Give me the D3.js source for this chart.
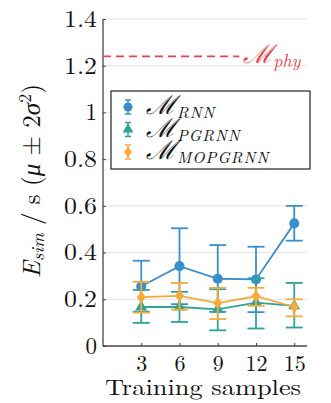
<!DOCTYPE html>
<html>
<head>
<meta charset="utf-8">
<script src="https://cdn.jsdelivr.net/npm/d3@7"></script>
<style>
  body { margin: 0; background: #fff; }
  text { font-family: "Latin Modern Roman", "Liberation Serif", serif; fill: #111; }
</style>
</head>
<body>
<div id="chart"></div>
<script>
// ---------- data ----------
const samples = [3, 6, 9, 12, 15];
const yTicks = [0, 0.2, 0.4, 0.6, 0.8, 1, 1.2, 1.4];
const phyValue = 1.24;

const rnnMean = [0.256, 0.342, 0.288, 0.285, 0.525];
const rnnLow  = [0.147, 0.179, 0.146, 0.145, 0.451];
const rnnHigh = [0.365, 0.504, 0.432, 0.425, 0.600];

const pgMean = [0.167, 0.167, 0.157, 0.186, 0.172];
const pgLow  = [0.099, 0.103, 0.067, 0.075, 0.079];
const pgHigh = [0.240, 0.232, 0.243, 0.290, 0.270];

const moMean = [0.209, 0.215, 0.184, 0.213, 0.167];
const moLow  = [0.143, 0.156, 0.115, 0.172, 0.127];
const moHigh = [0.275, 0.270, 0.249, 0.249, 0.200];

const seriesNames = ["RNN", "PGRNN", "MOPGRNN"];
const colors = ["#3a8fcb", "#2fa39a", "#f6ab3a"];
const markers = ["circle", "triangle", "diamond"];

// ---------- layout ----------
const W = 331, H = 403;
const margin = {top: 19, left: 103, right: 24, bottom: 57};
const width = W - margin.left - margin.right;
const height = H - margin.top - margin.bottom;
const FS = 23;

const svg = d3.select("#chart").append("svg")
    .attr("width", W).attr("height", H);
const g = svg.append("g")
    .attr("transform", "translate(" + margin.left + "," + margin.top + ")");

const x = d3.scaleLinear().domain([0, 16]).range([0, width]);
const y = d3.scaleLinear().domain([0, 1.4]).range([height, 0]);

// grid
g.selectAll(".grid").data(yTicks.slice(1)).enter().append("line")
    .attr("x1", 0).attr("x2", width)
    .attr("y1", d => y(d)).attr("y2", d => y(d))
    .attr("stroke", "#e3e3e3").attr("stroke-width", 1);

// axes
const yAxis = d3.axisLeft(y).tickValues(yTicks).tickSize(-3).tickPadding(6)
    .tickFormat(d => d3.format("~g")(d));
const gy = g.append("g").call(yAxis);
gy.select(".domain").remove();
gy.selectAll(".tick line").attr("stroke", "#444");
gy.selectAll("text").attr("font-size", FS).attr("dy", "0.32em")
    .attr("textLength", function(d) { return String(d3.format("~g")(d)).length > 1 ? 33 : null; })
    .attr("lengthAdjust", "spacingAndGlyphs");

const xAxis = d3.axisBottom(x).tickValues(samples).tickSize(-3).tickPadding(9);
const gx = g.append("g").attr("transform", "translate(0," + height + ")").call(xAxis);
gx.select(".domain").remove();
gx.selectAll(".tick line").attr("stroke", "#444");
gx.selectAll("text").attr("font-size", 22);

g.append("line").attr("x1", 0).attr("x2", 0).attr("y1", 0).attr("y2", height)
    .attr("stroke", "#444").attr("stroke-width", 1.3);
g.append("line").attr("x1", 0).attr("x2", width).attr("y1", height).attr("y2", height)
    .attr("stroke", "#444").attr("stroke-width", 1.3);

// physics reference line
g.append("line")
    .attr("x1", 0).attr("x2", x(10.7))
    .attr("y1", y(phyValue)).attr("y2", y(phyValue))
    .attr("stroke", "#e0474c").attr("stroke-width", 1.8)
    .attr("stroke-dasharray", "8,5");
const phyLabel = g.append("text")
    .attr("x", x(11.0)).attr("y", y(phyValue) + 7)
    .attr("font-size", 26).attr("font-style", "italic")
    .style("fill", "#e0474c");
phyLabel.append("tspan").text("ℳ");
phyLabel.append("tspan").attr("dy", 4).attr("font-size", 18).text("phy");

// ---------- series ----------
function markerPath(type, s) {
  if (type === "circle") return d3.symbol(d3.symbolCircle, s * s * 0.8)();
  if (type === "triangle") return d3.symbol(d3.symbolTriangle, s * s * 0.62)();
  return "M0," + (-s * 0.62) + "L" + (s * 0.45) + ",0L0," + (s * 0.62) + "L" + (-s * 0.45) + ",0Z";
}

const allSeries = [
  {mean: rnnMean, low: rnnLow, high: rnnHigh},
  {mean: pgMean, low: pgLow, high: pgHigh},
  {mean: moMean, low: moLow, high: moHigh}
];

const line = d3.line().x(d => x(d.s)).y(d => y(d.m));
const cap = 8.5;

allSeries.forEach(function(ser, k) {
  const pts = samples.map((s, i) => ({s: s, m: ser.mean[i], lo: ser.low[i], hi: ser.high[i]}));
  const col = colors[k];
  const sg = g.append("g");
  sg.append("path").datum(pts).attr("d", line)
      .attr("fill", "none").attr("stroke", col).attr("stroke-width", 1.8);
  const eb = sg.selectAll(".eb").data(pts).enter().append("g");
  eb.append("line").attr("x1", d => x(d.s)).attr("x2", d => x(d.s))
      .attr("y1", d => y(d.lo)).attr("y2", d => y(d.hi))
      .attr("stroke", col).attr("stroke-width", 1.8);
  ["lo", "hi"].forEach(function(key) {
    eb.append("line").attr("x1", d => x(d.s) - cap).attr("x2", d => x(d.s) + cap)
        .attr("y1", d => y(d[key])).attr("y2", d => y(d[key]))
        .attr("stroke", col).attr("stroke-width", 1.8);
  });
  eb.append("path").attr("d", markerPath(markers[k], 10))
      .attr("transform", d => "translate(" + x(d.s) + "," + y(d.m) + ")")
      .attr("fill", col);
});

// ---------- legend ----------
const lg = svg.append("g").attr("transform", "translate(111,91)");
lg.append("rect").attr("width", 199).attr("height", 78)
    .attr("fill", "#fff").attr("stroke", "#222").attr("stroke-width", 1.2);
seriesNames.forEach(function(name, k) {
  const cy = 16 + k * 22.5;
  const row = lg.append("g").attr("transform", "translate(17," + cy + ")");
  row.append("line").attr("y1", -7).attr("y2", 7).attr("stroke", colors[k]).attr("stroke-width", 1.5);
  row.append("line").attr("x1", -3).attr("x2", 3).attr("y1", -7).attr("y2", -7).attr("stroke", colors[k]).attr("stroke-width", 1.5);
  row.append("line").attr("x1", -3).attr("x2", 3).attr("y1", 7).attr("y2", 7).attr("stroke", colors[k]).attr("stroke-width", 1.5);
  row.append("path").attr("d", markerPath(markers[k], 9)).attr("fill", colors[k]);
  const t = lg.append("text").attr("x", 35).attr("y", cy + 7)
      .attr("font-size", 23).attr("font-style", "italic");
  t.append("tspan").attr("font-size", 26).text("ℳ");
  t.append("tspan").attr("dy", 4).attr("font-size", 16).attr("dx", 1)
      .attr("letter-spacing", 1).text(name);
});

// ---------- axis titles ----------
svg.append("text")
    .attr("x", margin.left + width / 2 - 2).attr("y", 395)
    .attr("text-anchor", "middle").attr("font-size", 22)
    .attr("textLength", 196).attr("lengthAdjust", "spacingAndGlyphs")
    .text("Training samples");

const yl = svg.append("text")
    .attr("transform", "translate(40,181) rotate(-90)")
    .attr("text-anchor", "middle").attr("font-size", 25);
yl.append("tspan").attr("font-style", "italic").text("E");
yl.append("tspan").attr("font-style", "italic").attr("font-size", 18).attr("dy", 4).text("sim");
yl.append("tspan").attr("dy", -4).text(" / s (");
yl.append("tspan").attr("font-style", "italic").text("μ");
yl.append("tspan").text(" ± 2");
yl.append("tspan").attr("font-style", "italic").text("σ");
yl.append("tspan").attr("font-size", 18).attr("dy", -9).text("2");
yl.append("tspan").attr("dy", 9).text(")");
</script>
</body>
</html>
